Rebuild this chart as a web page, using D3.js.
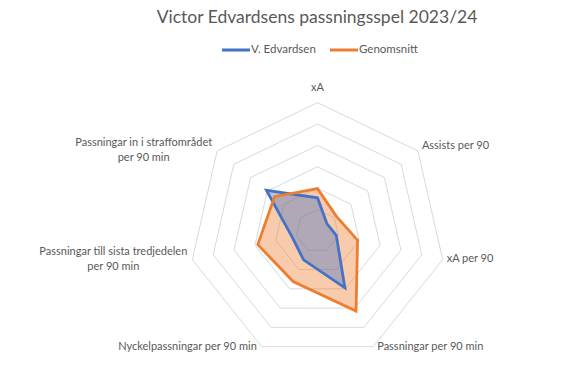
<!DOCTYPE html>
<html>
<head>
<meta charset="utf-8">
<script src="https://cdn.jsdelivr.net/npm/d3@7"></script>
<style>
  body { margin: 0; background: #fff; }
  text { font-family: Lato, "Open Sans", sans-serif; fill: #595959; }
</style>
</head>
<body>
<script>
// axes, clockwise from the top
const categories = [
  ['xA'],
  ['Assists per 90'],
  ['xA per 90'],
  ['Passningar per 90 min'],
  ['Nyckelpassningar per 90 min'],
  ['Passningar till sista tredjedelen', 'per 90 min'],
  ['Passningar in i straffområdet', 'per 90 min']
]
const seriesNames = ['V. Edvardsen', 'Genomsnitt']
const edvardsen = [1.55, 0.56, 0.9, 2.95, 1.5, 1.22, 3.05]
const genomsnitt = [1.98, 1.12, 1.92, 4.15, 2.62, 2.86, 2.57]
const ringTicks = [1, 2, 3, 4, 5, 6]

const box = { width: 588, height: 385 }
const cx = 317.5, cy = 231
const svg = d3.select('body').append('svg')
  .attr('width', box.width).attr('height', box.height)

const n = categories.length
const angle = d3.scaleLinear().domain([0, n]).range([0, 2 * Math.PI])
const rScale = d3.scaleLinear().domain([0, 6]).range([0, 128.4])

function pt(i, v) {
  const a = angle(i)
  return [cx + rScale(v) * Math.sin(a), cy - rScale(v) * Math.cos(a)]
}

const radarLine = d3.line()
  .x(d => d[0]).y(d => d[1])
  .curve(d3.curveLinearClosed)

// grid
svg.append('g').classed('grid', true)
  .selectAll('path').data(ringTicks).join('path')
  .attr('d', t => radarLine(d3.range(n).map(i => pt(i, t))))
  .attr('fill', 'none')
  .attr('stroke', '#d9d9d9')
  .attr('stroke-width', 1)

// areas
const series = [
  { name: seriesNames[0], values: edvardsen, color: '#4472c4' },
  { name: seriesNames[1], values: genomsnitt, color: '#ed7d31' }
]
const areas = svg.append('g').classed('areas', true)
areas.append('path')
  .attr('d', radarLine(genomsnitt.map((v, i) => pt(i, v))))
  .attr('fill', '#ed7d31').attr('fill-opacity', 0.4)
areas.append('path')
  .attr('d', radarLine(edvardsen.map((v, i) => pt(i, v))))
  .attr('fill', '#4472c4').attr('fill-opacity', 0.4)

// outlines
svg.append('g').classed('lines', true)
  .selectAll('path').data(series).join('path')
  .attr('d', s => radarLine(s.values.map((v, i) => pt(i, v))))
  .attr('fill', 'none')
  .attr('stroke', s => s.color)
  .attr('stroke-width', 2.8)
  .attr('stroke-linejoin', 'miter')

// axis labels
const labels = svg.append('g').classed('labels', true)
categories.forEach((lines, i) => {
  const [vx, vy] = pt(i, 6)
  const s = Math.sin(angle(i))
  const anchor = Math.abs(s) < 0.01 ? 'middle' : (s > 0 ? 'start' : 'end')
  let x = vx + (anchor === 'start' ? 4 : anchor === 'end' ? -5 : 0)
  let y = vy
  if (i === 0) y = vy - 14
  if (i === 1) y = vy - 5
  if (i === 3 || i === 4) y = vy + 1
  const t = labels.append('text')
    .attr('font-size', '11px')
    .attr('dominant-baseline', 'middle')
  if (lines.length === 1) {
    t.attr('x', x).attr('y', y).attr('text-anchor', anchor).text(lines[0])
  } else {
    // centred block, right edge at the vertex
    t.attr('text-anchor', 'middle')
    const spans = lines.map((l, k) => t.append('tspan').text(l))
    const w = d3.max(spans, sp => sp.node().getComputedTextLength())
    const mid = x - w / 2
    spans.forEach((sp, k) => sp.attr('x', mid).attr('y', y - 7.5 + k * 15))
  }
})

// title
svg.append('text')
  .attr('x', 317).attr('y', 19)
  .attr('text-anchor', 'middle').attr('dominant-baseline', 'middle')
  .attr('font-size', '17.5px')
  .text('Victor Edvardsens passningsspel 2023/24')

// legend
const legend = svg.append('g').classed('legend', true)
const legendX = [222, 330]
series.forEach((s, k) => {
  const g = legend.append('g').attr('transform', `translate(${legendX[k]},50)`)
  g.append('line').attr('x1', 0).attr('x2', 28).attr('y1', 0).attr('y2', 0)
    .attr('stroke', s.color).attr('stroke-width', 3)
  g.append('text').attr('x', 29).attr('y', 0)
    .attr('dominant-baseline', 'middle').attr('font-size', '11.5px')
    .text(s.name)
})
</script>
</body>
</html>
